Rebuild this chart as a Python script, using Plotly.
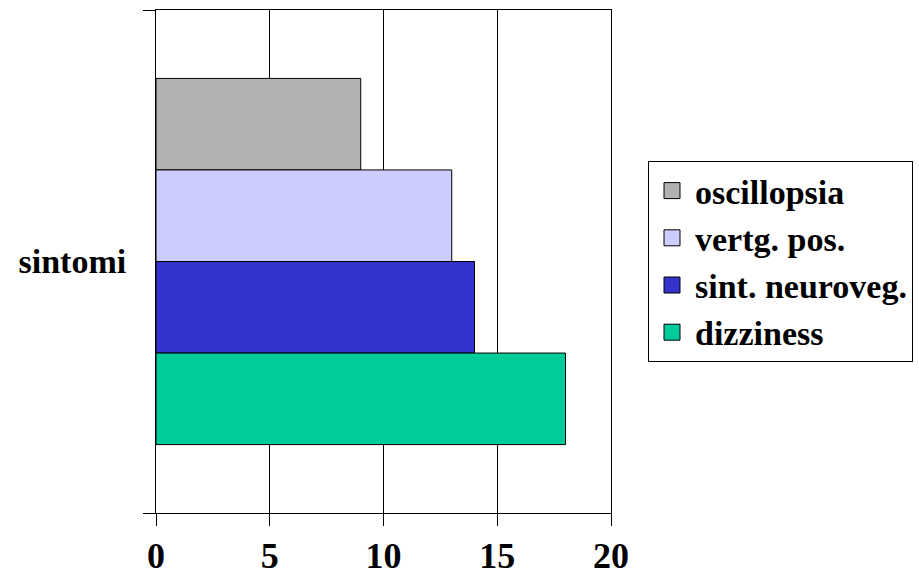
import plotly.graph_objects as go

category = ["sintomi"]
series_names = ["oscillopsia", "vertg. pos.", "sint. neuroveg.", "dizziness"]
series_values = [9, 13, 14, 18]
series_colors = ["#B2B2B2", "#CCCCFF", "#3333CC", "#00CC99"]
x_ticks = [0, 5, 10, 15, 20]

fig = go.Figure()
for name, val, col in zip(series_names, series_values, series_colors):
    fig.add_trace(go.Bar(
        name=name, y=category, x=[val], orientation="h", legendgroup=name,
        showlegend=False,
        marker=dict(color=col, line=dict(color="black", width=1)),
    ))
# legend entries with larger square swatches
for name, col in zip(series_names, series_colors):
    fig.add_trace(go.Scatter(
        name=name, x=[None], y=[None], mode="markers", legendgroup=name,
        marker=dict(symbol="square", size=16, color=col, line=dict(color="black", width=1)),
        hoverinfo="skip",
    ))

font_family = "Liberation Serif"
fig.update_layout(
    width=919, height=584,
    margin=dict(l=156, r=308, t=10, b=71, autoexpand=False),
    barmode="group", bargap=0.272, bargroupgap=0,
    plot_bgcolor="white", paper_bgcolor="white",
    font=dict(family=font_family, size=34, color="black", weight="bold"),
    showlegend=True,
    legend=dict(
        x=648/919, xanchor="left", y=1 - 161/584, yanchor="top",
        yref="container", xref="container",
        bordercolor="black", borderwidth=1, bgcolor="white",
        font=dict(family=font_family, size=34, color="black", weight="bold"),
        tracegroupgap=0, itemsizing="trace", itemwidth=36,
    ),
    xaxis=dict(
        range=[0, 20], tickvals=x_ticks, ticktext=[str(t) for t in x_ticks],
        showgrid=True, gridcolor="black", gridwidth=1,
        showline=True, linecolor="black", linewidth=1, mirror=True,
        ticks="outside", ticklen=12, tickcolor="black", tickwidth=1,
        zeroline=False, ticklabelstandoff=-1, automargin=False,
        tickfont=dict(family=font_family, size=36, color="black", weight="bold"),
    ),
    yaxis=dict(
        autorange="reversed", type="category",
        tickson="boundaries", showgrid=True, gridcolor="black", gridwidth=1,
        showline=True, linecolor="black", linewidth=1, mirror=True,
        ticks="outside", ticklen=12, tickcolor="black", tickwidth=1,
        ticklabelstandoff=22, automargin=False,
        tickfont=dict(family=font_family, size=34, color="black", weight="bold"),
    ),
)

fig.write_html("out.html", config={"displayModeBar": False},
               post_script="document.body.style.margin='0';")
